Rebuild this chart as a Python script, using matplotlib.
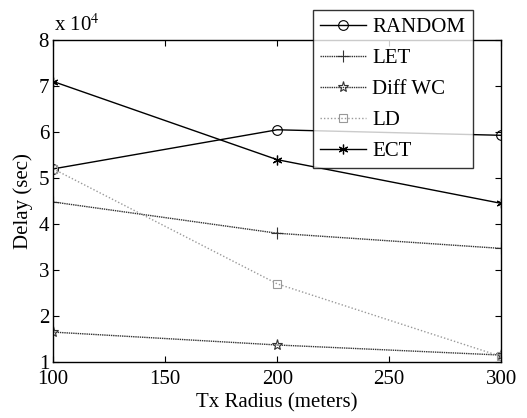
import matplotlib
matplotlib.use('Agg')
import matplotlib.pyplot as plt
import numpy as np

plt.rcParams['font.family'] = ['Liberation Serif', 'DejaVu Serif']
plt.rcParams['mathtext.fontset'] = 'stix'

# Tx radius (meters) and delay (sec)
radius = [100, 200, 300]
random_delay = [52000, 60500, 59300]
let_delay = [44800, 38000, 34700]
diffwc_delay = [16500, 13700, 11500]
ld_delay = [52000, 27000, 11200]
ect_delay = [71000, 54000, 44500]

scale = 1e4

fig = plt.figure(figsize=(5.27, 4.18), dpi=100)
ax = fig.add_axes([0.101, 0.134, 0.850, 0.770])

x = np.array(radius)
ax.plot(x, np.array(random_delay) / scale, color='black', lw=1.0,
        marker='o', mfc='none', ms=7, mew=0.8, label='RANDOM')
ax.plot(x, np.array(let_delay) / scale, color='#333333', lw=1.0, ls=(0, (1, 0.6)),
        marker='+', ms=8, mew=0.8, label='LET')
ax.plot(x, np.array(diffwc_delay) / scale, color='#333333', lw=1.0, ls=(0, (1, 0.6)),
        marker='*', mfc='none', ms=8, mew=0.8, label='Diff WC')
ax.plot(x, np.array(ld_delay) / scale, color='#999999', lw=1.0, ls=(0, (1, 1.5)),
        marker='s', mfc='none', ms=6, mew=0.8, label='LD')
ax.plot(x, np.array(ect_delay) / scale, color='black', lw=1.0,
        marker=(6, 2, 0), ms=7, mew=0.9, label='ECT')

ax.set_xlim(100, 300)
ax.set_ylim(1, 8)
ax.set_xticks([100, 150, 200, 250, 300])
ax.set_yticks(range(1, 9))
ax.tick_params(direction='in', top=True, right=True, labelsize=15, length=4)
ax.tick_params(axis='x', pad=6)
ax.tick_params(axis='y', pad=3)
for s in ax.spines.values():
    s.set_linewidth(1.0)

ax.set_xlabel('Tx Radius (meters)', fontsize=15, labelpad=3)
ax.set_ylabel('Delay (sec)', fontsize=15, labelpad=4)

fig.text(0.103, 0.915, r'x 10$^{4}$', fontsize=15, ha='left', va='bottom')

leg = ax.legend(loc='upper left', bbox_to_anchor=(0.594, 0.976), bbox_transform=fig.transFigure,
                fontsize=15, frameon=True, fancybox=False, edgecolor='black',
                borderpad=0.35, labelspacing=0.55, handlelength=2.2, handletextpad=0.3,
                borderaxespad=0)
leg.get_frame().set_linewidth(1.0)

fig.savefig('out.png', dpi=100)
